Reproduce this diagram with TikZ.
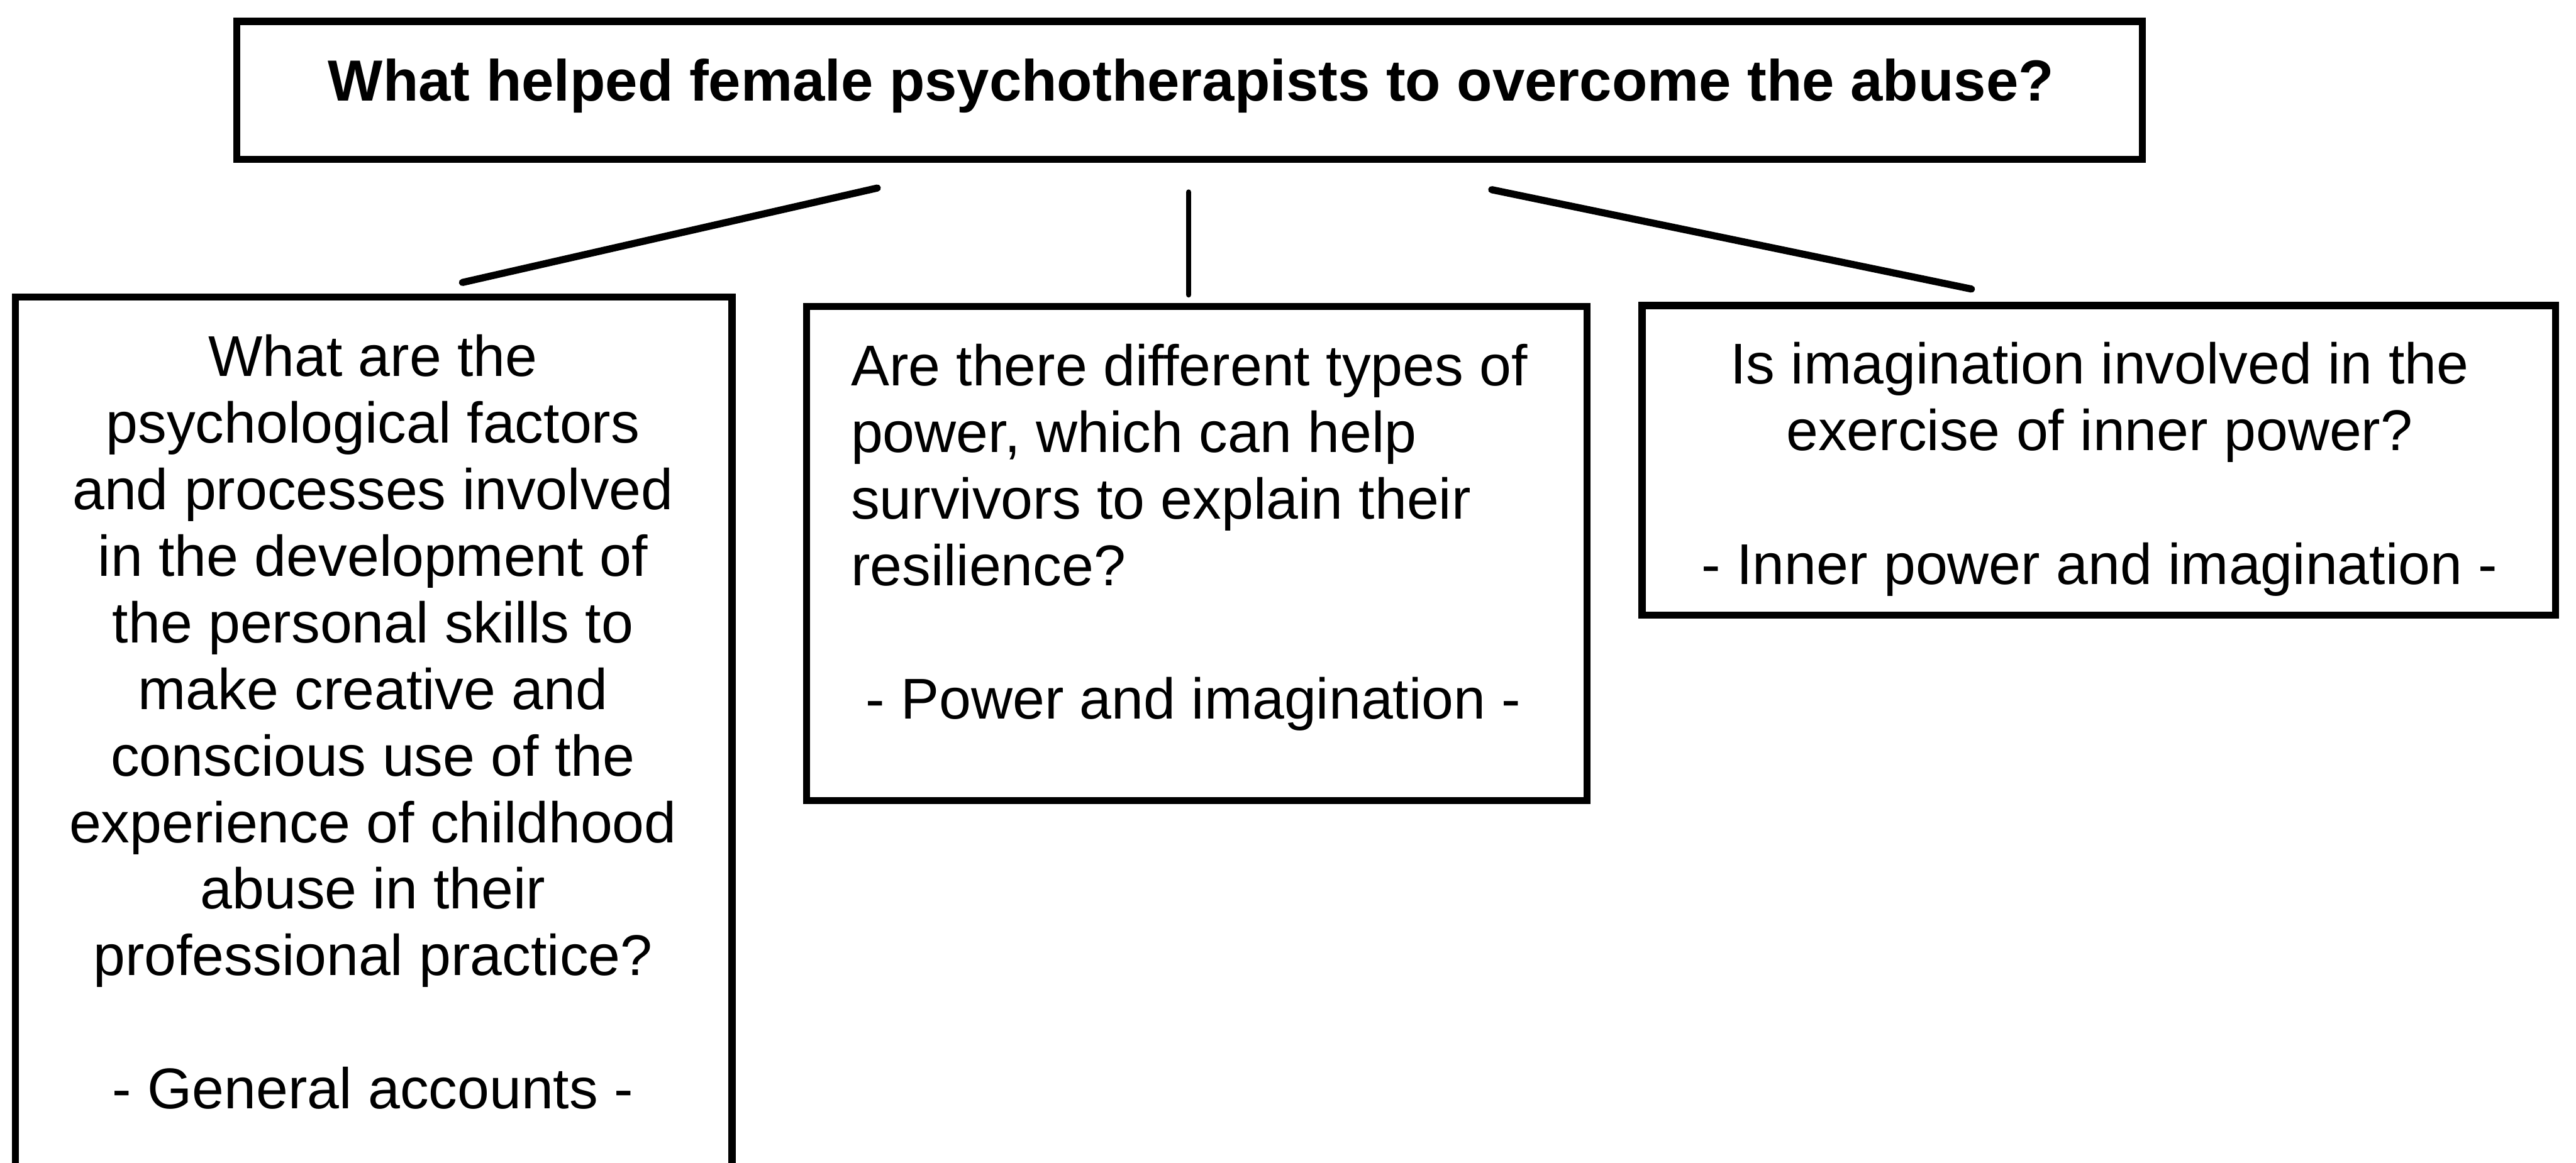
\documentclass[tikz,border=0pt]{standalone}
\usepackage{fontspec}
\setmainfont{Liberation Sans}
\begin{document}
\begin{tikzpicture}[x=0.3pt,y=-0.3pt,
  box/.style={draw=black, line width=1.3pt, inner sep=0pt, outer sep=0pt, rectangle},
  link/.style={draw=black, line width=1.3pt, line cap=round},
  vlink/.style={draw=black, line width=1.0pt, line cap=round},
  txt/.style={inner sep=0pt, outer sep=0pt},
  bodyfont/.style={font=\fontsize{10.5}{#1}\selectfont},
]
\useasboundingbox (0,0) rectangle (1568,708);
\clip (0,0) rectangle (1568,708);

% boxes
\node[box, minimum width=348pt, minimum height=25.2pt] (top) at (724,55) {};
\node[box, minimum width=130.86pt, minimum height=173.7pt] (left) at (227.5,470.5) {};
\node[box, minimum width=142.5pt, minimum height=90.3pt] (mid) at (728.5,337) {};
\node[box, minimum width=166.8pt, minimum height=56.55pt] (right) at (1277.5,280.25) {};

% texts
\node[txt, anchor=base, font=\fontsize{10.6}{12.2}\selectfont\bfseries] (ttitle) at (725,61.3)
  {What helped female psychotherapists to overcome the abuse?};

\node[txt, bodyfont=12.17, align=center, anchor=north] (tleft) at (227,199)
  {\rule{0pt}{9pt}What are the\\
   psychological factors\\
   and processes involved\\
   in the development of\\
   the personal skills to\\
   make creative and\\
   conscious use of the\\
   experience of childhood\\
   abuse in their\\
   professional practice?\\[12.17pt]
   - General accounts -};

\node[txt, bodyfont=12.18, align=left, anchor=north west] (tmid) at (518,204.7)
  {\rule{0pt}{9pt}Are there different types of\\
   power, which can help\\
   survivors to explain their\\
   resilience?\\[12.18pt]
   \hspace*{2.7pt}- Power and imagination -};

\node[txt, bodyfont=12.24, align=center, anchor=north] (tright) at (1278,203.6)
  {\rule{0pt}{9pt}Is imagination involved in the\\
   exercise of inner power?\\[12.24pt]
   - Inner power and imagination -};

% connectors
\coordinate (l1) at (534,114.5);
\coordinate (l2) at (281.5,172);
\coordinate (m1) at (723.5,117);
\coordinate (m2) at (723.5,179.5);
\coordinate (r1) at (908,115.5);
\coordinate (r2) at (1200,176);
\draw[link] (l1) -- (l2);
\draw[vlink] (m1) -- (m2);
\draw[link] (r1) -- (r2);
\end{tikzpicture}
\end{document}
